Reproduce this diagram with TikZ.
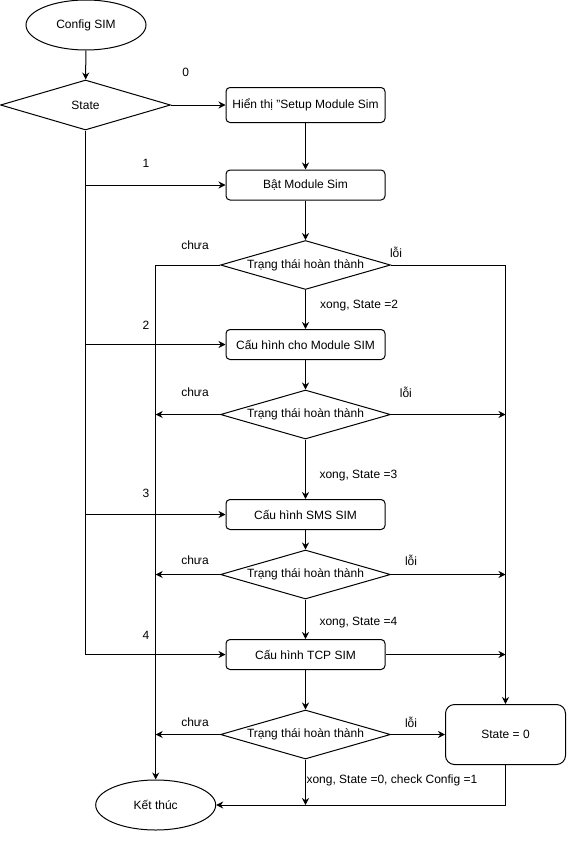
\documentclass[tikz,border=0pt]{standalone}
\usepackage{fontspec}
\setmainfont{Liberation Sans}
\usetikzlibrary{positioning, arrows.meta, shapes.geometric}

\begin{document}
\begin{tikzpicture}
    [
        x=1pt, y=-1pt, node distance=80pt and 220pt, on grid, >={Stealth[length=7pt, width=7pt]},
        every node/.style={font=\fontsize{12}{14}\selectfont},
        term_node/.style={ellipse, draw=black, line width=1pt, minimum width=120pt, minimum height=50pt, inner sep=0pt},
        proc_node/.style={rectangle, rounded corners=4pt, draw=black, line width=1pt, minimum width=159pt, minimum height=30pt, inner sep=0pt},
        dec_node/.style={diamond, draw=black, line width=1pt, minimum width=170pt, minimum height=49pt, inner sep=0pt},
        link/.style={->, line width=1pt, color=black},
    ]
        \useasboundingbox (0,0) rectangle (578,843) ;
        \node[term_node] (cfg) at (86,25) {Config SIM} ;
        \node[dec_node, minimum height=50pt] (state) at (85.5,105) {State} ;
        \node[proc_node, minimum height=35pt] (show) [right = of state] {Hiển thị "Setup Module Sim} ;
        \node[proc_node] (on) [below = of show] {Bật Module Sim} ;
        \node[dec_node] (chk1) [below = of on] {\makebox[0pt]{Trạng thái hoàn thành}} ;
        \node[proc_node] (mod) [below = 79.5pt of chk1] {Cấu hình cho Module SIM} ;
        \node[dec_node] (chk2) [below = 70pt of mod] {\makebox[0pt]{Trạng thái hoàn thành}} ;
        \node[proc_node] (sms) [below = 100pt of chk2] {Cấu hình SMS SIM} ;
        \node[dec_node] (chk3) [below = 60pt of sms] {\makebox[0pt]{Trạng thái hoàn thành}} ;
        \node[proc_node] (tcp) [below = of chk3] {Cấu hình TCP SIM} ;
        \node[dec_node] (chk4) [below = of tcp] {\makebox[0pt]{Trạng thái hoàn thành}} ;
        \node[proc_node, rounded corners=9pt, minimum width=120pt, minimum height=60pt] (reset) [right = 200pt of chk4] {State = 0} ;
        \node[term_node] (end) at (155.7,805) {Kết thúc} ;
        % state numbers
        \node (n0) at (185.7,72.5) {0} ;
        \node (n1) at (146,163.3) {1} ;
        \node (n2) at (146,325) {2} ;
        \node (n3) at (146,493) {3} ;
        \node (n4) at (146,635) {4} ;
        % branch labels
        \node (wait1) at (195,245) {chưa} ;
        \node (wait2) at (195,392.7) {chưa} ;
        \node (wait3) at (195,560) {chưa} ;
        \node (wait4) at (195,722.7) {chưa} ;
        \node (err1) at (396,252.7) {lỗi} ;
        \node (err2) at (405.9,392.7) {lỗi} ;
        \node (err3) at (411,560) {lỗi} ;
        \node (err4) at (411,722.7) {lỗi} ;
        \node[anchor=west] (ok1) at (316.7,305.7) {xong, State =2} ;
        \node[anchor=west] (ok2) at (316,476) {xong, State =3} ;
        \node[anchor=west] (ok3) at (316,622.7) {xong, State =4} ;
        \node[anchor=west] (ok4) at (303,780) {xong, State =0, check Config =1} ;
        % main column
        \draw[link] (cfg) -- (state) ;
        \draw[link] (state) -- (show) ;
        \draw[link] (show) -- (on) ;
        \draw[link] (on) -- (chk1) ;
        \draw[link] (chk1) -- (mod) ;
        \draw[link] (mod) -- (chk2) ;
        \draw[link] (chk2) -- (sms) ;
        \draw[link] (sms) -- (chk3) ;
        \draw[link] (chk3) -- (tcp) ;
        \draw[link] (tcp) -- (chk4) ;
        % state bus
        \draw[link] (state.south) |- (tcp.west) ;
        \draw[link] (state.south |- on.west) -- (on.west) ;
        \draw[link] (state.south |- mod.west) -- (mod.west) ;
        \draw[link] (state.south |- sms.west) -- (sms.west) ;
        % not yet
        \draw[link] (chk1.west) -| (end.north) ;
        \draw[link] (chk2.west) -- (chk2.west -| end.north) ;
        \draw[link] (chk3.west) -- (chk3.west -| end.north) ;
        \draw[link] (chk4.west) -- (chk4.west -| end.north) ;
        % error
        \draw[link] (chk1.east) -| (reset.north) ;
        \draw[link] (chk2.east) -- (chk2.east -| reset.north) ;
        \draw[link] (chk3.east) -- (chk3.east -| reset.north) ;
        \draw[link] (tcp.east) -- (tcp.east -| reset.north) ;
        \draw[link] (chk4.east) -- (reset.west) ;
        % done
        \draw[link] (chk4.south) -- (chk4.south |- end.east) ;
        \draw[link] (reset.south) |- (end.east) ;
    \end{tikzpicture}
\end{document}
